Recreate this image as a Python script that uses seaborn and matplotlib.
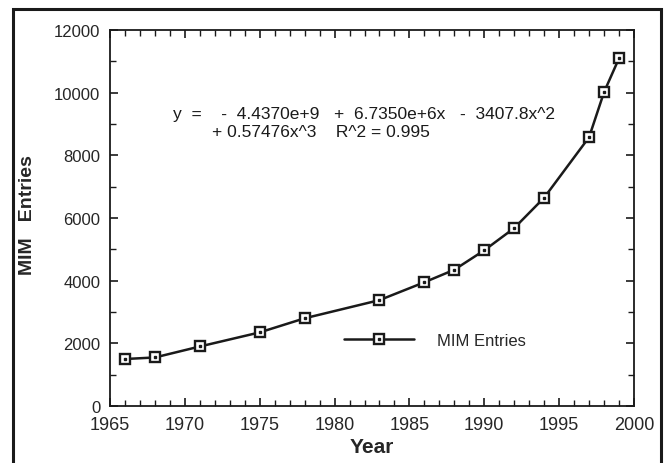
import matplotlib
matplotlib.use("Agg")
import matplotlib.pyplot as plt
import seaborn as sns
import pandas as pd
from matplotlib.patches import Rectangle
from matplotlib.ticker import MultipleLocator
from matplotlib.lines import Line2D

years = [1966, 1968, 1971, 1975, 1978, 1983, 1986, 1988, 1990, 1992, 1994, 1997, 1998, 1999]
entries = [1500, 1550, 1900, 2350, 2800, 3380, 3950, 4350, 4970, 5680, 6650, 8580, 10020, 11100]
series_name = "MIM Entries"
equation = ("y  =    -  4.4370e+9   +  6.7350e+6x   -  3407.8x^2\n"
            "        + 0.57476x^3    R^2 = 0.995")

sns.set_theme(style="white")
plt.rcParams['font.family'] = ['Liberation Sans', 'DejaVu Sans']

df = pd.DataFrame({"Year": years, "Entries": entries})

fig = plt.figure(figsize=(6.65, 4.64), dpi=100)
ax = fig.add_axes([0.1654, 0.1228, 0.7880, 0.8103])

sns.lineplot(data=df, x="Year", y="Entries", ax=ax, color="#1a1a1a", linewidth=1.8,
             marker="s", markersize=7.5, markerfacecolor="white", markeredgecolor="#1a1a1a",
             markeredgewidth=1.7)
ax.plot(df["Year"], df["Entries"], linestyle="none", marker="s", markersize=1.6,
        color="#1a1a1a")

ax.set_xlim(1965, 2000)
ax.set_ylim(0, 12000)
ax.xaxis.set_major_locator(MultipleLocator(5))
ax.xaxis.set_minor_locator(MultipleLocator(1))
ax.yaxis.set_major_locator(MultipleLocator(2000))
ax.yaxis.set_minor_locator(MultipleLocator(1000))
ax.tick_params(which="both", direction="in", top=True, right=True, color="#1a1a1a",
               bottom=True, left=True)
ax.tick_params(which="major", length=6, width=1.2)
ax.tick_params(which="minor", length=4, width=1.0)
ax.tick_params(axis="x", which="major", labelsize=13, pad=7)
ax.tick_params(axis="y", which="major", labelsize=12, pad=7)
for sp in ax.spines.values():
    sp.set_color("#1a1a1a")
    sp.set_linewidth(1.3)

ax.set_xlabel("Year", fontsize=15, fontweight="bold", labelpad=3)
ax.set_ylabel("MIM   Entries", fontsize=14, fontweight="bold")
ax.yaxis.set_label_coords(-0.141, 0.51)

ax.text(0.12, 0.754, equation, transform=ax.transAxes, fontsize=12.5, va="center",
        ha="left", linespacing=1.2, color="#1a1a1a")

h1 = Line2D([], [], color="#1a1a1a", linewidth=1.8, marker="s", markersize=7.5,
            markerfacecolor="white", markeredgecolor="#1a1a1a", markeredgewidth=1.7)
h2 = Line2D([], [], linestyle="none", marker="s", markersize=1.6, color="#1a1a1a")
leg = ax.legend([(h1, h2)], [series_name], loc="center left", bbox_to_anchor=(0.417, 0.1755),
                frameon=False, fontsize=12, handlelength=4.2, handletextpad=1.4)

fig.patches.append(Rectangle((0.019, -0.02), 0.975, 0.999, transform=fig.transFigure,
                             fill=False, edgecolor="#1a1a1a", linewidth=2.2))

fig.savefig("out.png", dpi=100)
